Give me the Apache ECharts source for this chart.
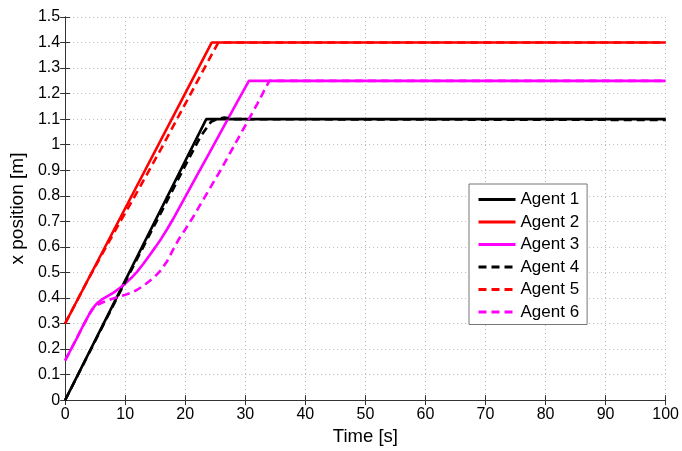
<!DOCTYPE html>
<html>
<head>
<meta charset="utf-8">
<script src="https://cdn.jsdelivr.net/npm/echarts@6/dist/echarts.min.js"></script>
<style>
html,body{margin:0;padding:0;background:#fff;}
#chart{width:682px;height:451px;}
</style>
</head>
<body>
<div id="chart"></div>
<script>
const agentNames = ['Agent 1','Agent 2','Agent 3','Agent 4','Agent 5','Agent 6'];
const xTicks = [0,10,20,30,40,50,60,70,80,90,100];
const yTicks = [0,0.1,0.2,0.3,0.4,0.5,0.6,0.7,0.8,0.9,1,1.1,1.2,1.3,1.4,1.5];

const t1 = [0, 23.5, 100];
const x1 = [0, 1.1, 1.1];
const t2 = [0, 24.4, 100];
const x2 = [0.3, 1.4, 1.4];
const t3 = [0,1,2,3,4,4.5,5,5.5,6,7,8,9,10,11,12,13,14,15,16,17,18,20,22,24,26,28,30.6,100];
const x3 = [0.155,0.2,0.245,0.292,0.336,0.356,0.371,0.383,0.392,0.406,0.42,0.437,0.456,0.478,0.503,0.533,0.565,0.598,0.632,0.67,0.71,0.796,0.882,0.967,1.053,1.139,1.25,1.25];
const t4 = [0,10,15,20,22.5,24.3,25.5,26.5,28,100];
const x4 = [0,0.463,0.69,0.918,1.03,1.09,1.102,1.106,1.1,1.097];
const t5 = [0,4,8,12,16,20,24,25.5,100];
const x5 = [0.3,0.48,0.65,0.815,0.985,1.16,1.335,1.4,1.4];
const t6 = [0,1,2,3,4,4.5,5,5.5,6,7,8,9,10,11,12,13,14,15,16,17,18,19,20,21,22,24,26,28,30,32,34,100];
const x6 = [0.155,0.2,0.245,0.292,0.336,0.354,0.366,0.374,0.38,0.39,0.398,0.405,0.412,0.42,0.432,0.447,0.465,0.485,0.51,0.545,0.59,0.633,0.668,0.705,0.745,0.825,0.905,0.99,1.075,1.16,1.25,1.25];

const times = [t1,t2,t3,t4,t5,t6];
const values = [x1,x2,x3,x4,x5,x6];
const colors = ['#000000','#ff0000','#ff00ff','#000000','#ff0000','#ff00ff'];
const dashed = [false,false,false,true,true,true];

const FONT = '"Liberation Sans", Arial, sans-serif';
const axisColor = '#333';

const chart = echarts.init(document.getElementById('chart'), null, {renderer:'canvas'});

const series = agentNames.map((name, i) => ({
  name: name,
  type: 'line',
  data: times[i].map((t, k) => [t, values[i][k]]),
  symbol: 'none',
  showSymbol: false,
  smooth: false,
  animation: false,
  color: colors[i],
  lineStyle: { color: colors[i], width: 2.6, type: dashed[i] ? [8,5] : 'solid' }
}));

const tickFmt = v => String(Math.round(v*10)/10);

chart.setOption({
  animation: false,
  backgroundColor: '#fff',
  textStyle: { fontFamily: FONT },
  grid: { left: 61, right: 15, top: 17, bottom: 44, containLabel: false },
  legend: {
    data: agentNames,
    orient: 'vertical',
    left: 469, top: 184,
    backgroundColor: '#fff',
    borderColor: '#777', borderWidth: 1,
    padding: [7, 8, 4, 8],
    itemWidth: 37, itemHeight: 14, itemGap: 5.5,
    itemStyle: { color: 'rgba(0,0,0,0)', borderWidth: 0, borderColor: 'rgba(0,0,0,0)' },
    lineStyle: { width: 3 },
    textStyle: { fontSize: 17, color: '#000', fontFamily: FONT, lineHeight: 17 }
  },
  xAxis: [{
    type: 'value', min: xTicks[0], max: xTicks[xTicks.length-1], interval: 10,
    name: 'Time [s]', nameLocation: 'middle', nameGap: 24,
    nameTextStyle: { fontSize: 18.5, color: '#000', fontFamily: FONT },
    axisLine: { show: true, lineStyle: { color: axisColor, width: 1 } },
    axisTick: { show: true, inside: true, length: 5, lineStyle: { color: axisColor } },
    axisLabel: { fontSize: 16, color: '#000', margin: 6, fontFamily: FONT, formatter: tickFmt },
    splitLine: { show: true, lineStyle: { color: '#b8b8b8', type: [1,3], width: 1 } }
  },{
    type: 'value', position: 'top', min: 0, max: 100, interval: 10,
    axisLine: { show: true, lineStyle: { color: axisColor, width: 1 } },
    axisTick: { show: true, inside: true, length: 5, lineStyle: { color: axisColor } },
    axisLabel: { show: false }, splitLine: { show: false }
  }],
  yAxis: [{
    type: 'value', min: yTicks[0], max: yTicks[yTicks.length-1], interval: 0.1,
    name: 'x position [m]', nameLocation: 'middle', nameGap: 35,
    nameTextStyle: { fontSize: 19, color: '#000', fontFamily: FONT },
    axisLine: { show: true, lineStyle: { color: axisColor, width: 1 } },
    axisTick: { show: true, inside: true, length: 5, lineStyle: { color: axisColor } },
    axisLabel: { fontSize: 16, color: '#000', margin: 5, fontFamily: FONT, formatter: tickFmt },
    splitLine: { show: true, lineStyle: { color: '#b8b8b8', type: [1,3], width: 1 } }
  },{
    type: 'value', position: 'right', min: 0, max: 1.5, interval: 0.1,
    axisLine: { show: true, lineStyle: { color: axisColor, width: 1 } },
    axisTick: { show: true, inside: true, length: 5, lineStyle: { color: axisColor } },
    axisLabel: { show: false }, splitLine: { show: false }
  }],
  series: series
});
</script>
</body>
</html>
